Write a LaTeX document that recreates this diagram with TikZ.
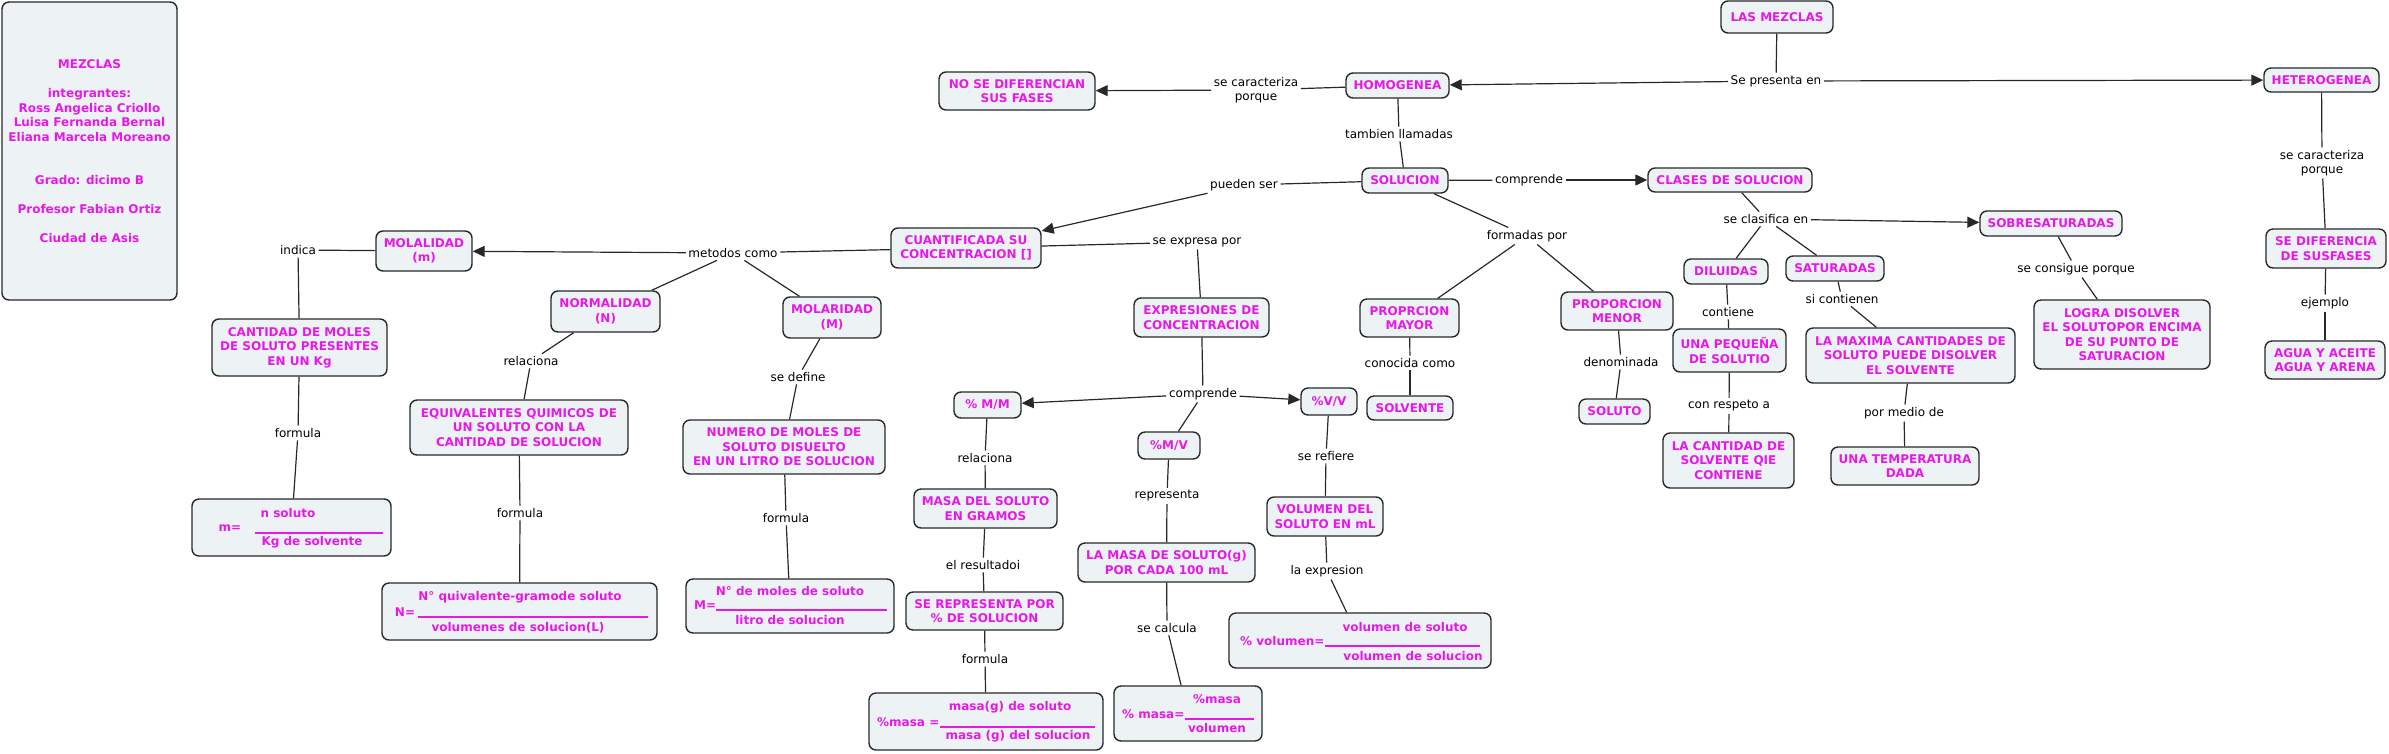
\documentclass[tikz,border=0pt]{standalone}
\usepackage{fontspec}
\setmainfont{DejaVu Sans}
\usetikzlibrary{arrows.meta}
\definecolor{mag}{RGB}{230,25,230}
\definecolor{boxfill}{RGB}{237,242,245}
\definecolor{edgec}{RGB}{40,40,40}
\tikzset{
  cbox/.style={draw=edgec, line width=1.4pt, rounded corners=7pt, fill=boxfill, text=mag,
    font=\bfseries\fontsize{12}{14.5}\selectfont, align=center, inner sep=0pt},
  lbl/.style={font=\fontsize{12}{14}\selectfont, align=center, inner sep=2.5pt, text=black},
  ftxt/.style={text=mag, font=\bfseries\fontsize{12}{14.5}\selectfont, inner sep=0pt},
  conn/.style={draw=edgec, line width=1.2pt},
  arr/.style={conn, -{Triangle[length=12pt,width=11pt]}},
  frule/.style={draw=mag, line width=1.1pt}
}
\begin{document}
\begin{tikzpicture}[x=1pt,y=-1pt]
\useasboundingbox (0,0) rectangle (2389,753);
% info box
\node[cbox, minimum width=175pt, minimum height=298pt] (info) at (89.5,151)
 {MEZCLAS\\[14.5pt]integrantes:\\Ross Angelica Criollo\\Luisa Fernanda Bernal\\Eliana Marcela Moreano\\[29pt]Grado: dicimo B\\[14pt]Profesor Fabian Ortiz\\[14.5pt]Ciudad de Asis};
% concept boxes
\node[cbox, minimum width=96pt, minimum height=40pt] (molal) at (424,251) {MOLALIDAD\\(m)};
\node[cbox, minimum width=175pt, minimum height=57pt] (cantm) at (299.5,347.5) {CANTIDAD DE MOLES\\DE SOLUTO PRESENTES\\EN UN Kg};
\node[cbox, minimum width=199pt, minimum height=57pt] (fm) at (291.5,527.5) {};
\node[cbox, minimum width=109pt, minimum height=41pt] (norm) at (605.5,311.5) {NORMALIDAD\\(N)};
\node[cbox, minimum width=218pt, minimum height=55pt] (equiv) at (519,427.5) {EQUIVALENTES QUIMICOS DE\\UN SOLUTO CON LA\\CANTIDAD DE SOLUCION};
\node[cbox, minimum width=275pt, minimum height=57pt] (fn) at (519.5,611.5) {};
\node[cbox, minimum width=150pt, minimum height=40pt] (cuant) at (966,248) {CUANTIFICADA SU\\CONCENTRACION []};
\node[cbox, minimum width=98pt, minimum height=41pt] (molar) at (832,317.5) {MOLARIDAD\\(M)};
\node[cbox, minimum width=202pt, minimum height=54pt] (numero) at (784,447) {NUMERO DE MOLES DE\\SOLUTO DISUELTO\\EN UN LITRO DE SOLUCION};
\node[cbox, minimum width=208pt, minimum height=54pt] (fM) at (790,606) {};
\node[cbox, minimum width=67pt, minimum height=26pt] (pmm) at (987.5,405) {\% M/M};
\node[cbox, minimum width=143pt, minimum height=39pt] (masa) at (985.5,508.5) {MASA DEL SOLUTO\\EN GRAMOS};
\node[cbox, minimum width=157pt, minimum height=38pt] (serep) at (984.5,611) {SE REPRESENTA POR\\\% DE SOLUCION};
\node[cbox, minimum width=234pt, minimum height=57pt] (fmm) at (986,721.5) {};
\node[cbox, minimum width=135pt, minimum height=39pt] (expr) at (1201.5,317.5) {EXPRESIONES DE\\CONCENTRACION};
\node[cbox, minimum width=62pt, minimum height=27pt] (pmv) at (1169,445.5) {\%M/V};
\node[cbox, minimum width=177pt, minimum height=39pt] (lamasa) at (1166.5,562.5) {LA MASA DE SOLUTO(g)\\POR CADA 100 mL};
\node[cbox, minimum width=148pt, minimum height=55pt] (fmv) at (1188,713.5) {};
\node[cbox, minimum width=56pt, minimum height=27pt] (pvv) at (1329,401.5) {\%V/V};
\node[cbox, minimum width=116pt, minimum height=39pt] (volum) at (1325,516.5) {VOLUMEN DEL\\SOLUTO EN mL};
\node[cbox, minimum width=262pt, minimum height=55pt] (fvv) at (1360,640.5) {};
\node[cbox, minimum width=156pt, minimum height=38pt] (nosedif) at (1017,91) {NO SE DIFERENCIAN\\SUS FASES};
\node[cbox, minimum width=103pt, minimum height=25pt] (homo) at (1397.5,85.5) {HOMOGENEA};
\node[cbox, minimum width=86pt, minimum height=25pt] (soluc) at (1405,180.5) {SOLUCION};
\node[cbox, minimum width=99pt, minimum height=38pt] (pmayor) at (1409.5,318) {PROPRCION\\MAYOR};
\node[cbox, minimum width=86pt, minimum height=24pt] (solvente) at (1410,408) {SOLVENTE};
\node[cbox, minimum width=112pt, minimum height=38pt] (pmenor) at (1617,311) {PROPORCION\\MENOR};
\node[cbox, minimum width=71pt, minimum height=25pt] (soluto) at (1614.5,411.5) {SOLUTO};
\node[cbox, minimum width=164pt, minimum height=24pt] (clases) at (1730,180) {CLASES DE SOLUCION};
\node[cbox, minimum width=84pt, minimum height=25pt] (dil) at (1726,271.5) {DILUIDAS};
\node[cbox, minimum width=113pt, minimum height=43pt] (pequena) at (1729.5,350.5) {UNA PEQUEÑA\\DE SOLUTIO};
\node[cbox, minimum width=131pt, minimum height=55pt] (lacant) at (1728.5,460.5) {LA CANTIDAD DE\\SOLVENTE QIE\\CONTIENE};
\node[cbox, minimum width=98pt, minimum height=25pt] (sat) at (1835,268.5) {SATURADAS};
\node[cbox, minimum width=209pt, minimum height=55pt] (maxima) at (1910.5,355.5) {LA MAXIMA CANTIDADES DE\\SOLUTO PUEDE DISOLVER\\EL SOLVENTE};
\node[cbox, minimum width=148pt, minimum height=38pt] (temp) at (1905,466) {UNA TEMPERATURA\\DADA};
\node[cbox, minimum width=142pt, minimum height=25pt] (sobre) at (2051,223.5) {SOBRESATURADAS};
\node[cbox, minimum width=176pt, minimum height=69pt] (logra) at (2122,334.5) {LOGRA DISOLVER\\EL SOLUTOPOR ENCIMA\\DE SU PUNTO DE\\SATURACION};
\node[cbox, minimum width=112pt, minimum height=32pt] (mezclas) at (1777,17) {LAS MEZCLAS};
\node[cbox, minimum width=115pt, minimum height=24pt] (hetero) at (2321.5,80) {HETEROGENEA};
\node[cbox, minimum width=120pt, minimum height=39pt] (sedif) at (2326,248.5) {SE DIFERENCIA\\DE SUSFASES};
\node[cbox, minimum width=120pt, minimum height=38pt] (agua) at (2325,360) {AGUA Y ACEITE\\AGUA Y ARENA};
% formula contents
\node[ftxt] (fmnum) at (288,513) {n soluto};
\node[ftxt] (fmeq) at (230,528) {m=};
\node[ftxt] (fmden) at (312,542) {Kg de solvente};
\coordinate (fmr1) at (255,533); \coordinate (fmr2) at (383,533);
\draw[frule] (fmr1) -- (fmr2);
\node[ftxt] (fnnum) at (520,597) {N° quivalente-gramode soluto};
\node[ftxt] (fneq) at (405,612) {N=};
\node[ftxt] (fnden) at (518,628) {volumenes de solucion(L)};
\coordinate (fnr1) at (418,617); \coordinate (fnr2) at (648,617);
\draw[frule] (fnr1) -- (fnr2);
\node[ftxt] (fMnum) at (790,591) {N° de moles de soluto};
\node[ftxt, anchor=west] (fMeq) at (694,605) {M=};
\node[ftxt] (fMden) at (790,620) {litro de solucion};
\coordinate (fMr1) at (716,610); \coordinate (fMr2) at (887,610);
\draw[frule] (fMr1) -- (fMr2);
\node[ftxt] (fmmnum) at (1010,707) {masa(g) de soluto};
\node[ftxt, anchor=west] (fmmeq) at (877,722) {\%masa =};
\node[ftxt] (fmmden) at (1018,736) {masa (g) del solucion};
\coordinate (fmmr1) at (940,727); \coordinate (fmmr2) at (1095,727);
\draw[frule] (fmmr1) -- (fmmr2);
\node[ftxt] (fmvnum) at (1217,699) {\%masa};
\node[ftxt, anchor=west] (fmveq) at (1122,714) {\% masa=};
\node[ftxt] (fmvden) at (1217,728) {volumen};
\coordinate (fmvr1) at (1185,719); \coordinate (fmvr2) at (1254,719);
\draw[frule] (fmvr1) -- (fmvr2);
\node[ftxt] (fvvnum) at (1405,627) {volumen de soluto};
\node[ftxt, anchor=west] (fvveq) at (1240,641) {\% volumen=};
\node[ftxt] (fvvden) at (1413,656) {volumen de solucion};
\coordinate (fvvr1) at (1325,646); \coordinate (fvvr2) at (1480,646);
\draw[frule] (fvvr1) -- (fvvr2);
% labels
\node[lbl] (l_indica) at (298,250) {indica};
\node[lbl] (l_form1) at (298,433) {formula};
\node[lbl] (l_metodos) at (733,253) {metodos como};
\node[lbl] (l_rel1) at (531,361) {relaciona};
\node[lbl] (l_form2) at (520,513) {formula};
\node[lbl] (l_sedef) at (798,377) {se define};
\node[lbl] (l_form3) at (786,518) {formula};
\node[lbl] (l_expresa) at (1197,242) {se expresa por};
\node[lbl] (l_comp2) at (1203,394) {comprende};
\node[lbl] (l_rel2) at (985,458) {relaciona};
\node[lbl] (l_result) at (983,565) {el resultadoi};
\node[lbl] (l_form4) at (985,659) {formula};
\node[lbl] (l_repres) at (1167,496) {representa};
\node[lbl] (l_calc) at (1167,628) {se calcula};
\node[lbl] (l_refiere) at (1326,456) {se refiere};
\node[lbl] (l_lexpr) at (1327,571) {la expresion};
\node[lbl] (l_carac1) at (1256,90) {se caracteriza\\porque};
\node[lbl] (l_tamb) at (1399,134) {tambien llamadas};
\node[lbl] (l_pueden) at (1244,185) {pueden ser};
\node[lbl] (l_comp1) at (1529,180) {comprende};
\node[lbl] (l_formadas) at (1527,236) {formadas por};
\node[lbl] (l_conoc) at (1410,363) {conocida como};
\node[lbl] (l_denom) at (1621,362) {denominada};
\node[lbl] (l_clasif) at (1766,219) {se clasifica en};
\node[lbl] (l_cont) at (1728,312) {contiene};
\node[lbl] (l_respeto) at (1729,406) {con respeto a};
\node[lbl] (l_sicont) at (1842,299) {si contienen};
\node[lbl] (l_medio) at (1904,413) {por medio de};
\node[lbl] (l_consig) at (2076,269) {se consigue porque};
\node[lbl] (l_presenta) at (1776,81) {Se presenta en};
\node[lbl] (l_carac2) at (2322,163) {se caracteriza\\porque};
\node[lbl] (l_ejemplo) at (2325,303) {ejemplo};
% connectors
\draw[conn] (mezclas) -- (l_presenta);
\draw[arr] (l_presenta) -- (homo);
\draw[arr] (l_presenta) -- (hetero);
\draw[conn] (homo) -- (l_carac1);
\draw[arr] (l_carac1) -- (nosedif);
\draw[conn] (homo) -- (l_tamb);
\draw[conn] (l_tamb) -- (soluc);
\draw[conn] (soluc) -- (l_pueden);
\draw[arr] (l_pueden) -- (cuant);
\draw[conn] (soluc) -- (l_comp1);
\draw[arr] (l_comp1) -- (clases);
\draw[conn] (soluc) -- (l_formadas);
\draw[conn] (l_formadas) -- (pmayor);
\draw[conn] (l_formadas) -- (pmenor);
\draw[conn] (pmayor) -- (l_conoc);
\draw[conn] (l_conoc) -- (solvente);
\draw[conn] (pmenor) -- (l_denom);
\draw[conn] (l_denom) -- (soluto);
\draw[conn] (clases) -- (l_clasif);
\draw[conn] (l_clasif) -- (dil);
\draw[conn] (l_clasif) -- (sat);
\draw[arr] (l_clasif) -- (sobre);
\draw[conn] (dil) -- (l_cont);
\draw[conn] (l_cont) -- (pequena);
\draw[conn] (pequena) -- (l_respeto);
\draw[conn] (l_respeto) -- (lacant);
\draw[conn] (sat) -- (l_sicont);
\draw[conn] (l_sicont) -- (maxima);
\draw[conn] (maxima) -- (l_medio);
\draw[conn] (l_medio) -- (temp);
\draw[conn] (sobre) -- (l_consig);
\draw[conn] (l_consig) -- (logra);
\draw[conn] (hetero) -- (l_carac2);
\draw[conn] (l_carac2) -- (sedif);
\draw[conn] (sedif) -- (l_ejemplo);
\draw[conn] (l_ejemplo) -- (agua);
\draw[conn] (cuant) -- (l_metodos);
\draw[arr] (l_metodos) -- (molal);
\draw[conn] (l_metodos) -- (norm);
\draw[conn] (l_metodos) -- (molar);
\draw[conn] (cuant) -- (l_expresa);
\draw[conn] (l_expresa) -- (expr);
\draw[conn] (molal) -- (l_indica);
\draw[conn] (l_indica) -- (cantm);
\draw[conn] (cantm) -- (l_form1);
\draw[conn] (l_form1) -- (fm);
\draw[conn] (norm) -- (l_rel1);
\draw[conn] (l_rel1) -- (equiv);
\draw[conn] (equiv) -- (l_form2);
\draw[conn] (l_form2) -- (fn);
\draw[conn] (molar) -- (l_sedef);
\draw[conn] (l_sedef) -- (numero);
\draw[conn] (numero) -- (l_form3);
\draw[conn] (l_form3) -- (fM);
\draw[conn] (expr) -- (l_comp2);
\draw[arr] (l_comp2) -- (pmm);
\draw[conn] (l_comp2) -- (pmv);
\draw[arr] (l_comp2) -- (pvv);
\draw[conn] (pmm) -- (l_rel2);
\draw[conn] (l_rel2) -- (masa);
\draw[conn] (masa) -- (l_result);
\draw[conn] (l_result) -- (serep);
\draw[conn] (serep) -- (l_form4);
\draw[conn] (l_form4) -- (fmm);
\draw[conn] (pmv) -- (l_repres);
\draw[conn] (l_repres) -- (lamasa);
\draw[conn] (lamasa) -- (l_calc);
\draw[conn] (l_calc) -- (fmv);
\draw[conn] (pvv) -- (l_refiere);
\draw[conn] (l_refiere) -- (volum);
\draw[conn] (volum) -- (l_lexpr);
\draw[conn] (l_lexpr) -- (fvv);
\end{tikzpicture}
\end{document}
